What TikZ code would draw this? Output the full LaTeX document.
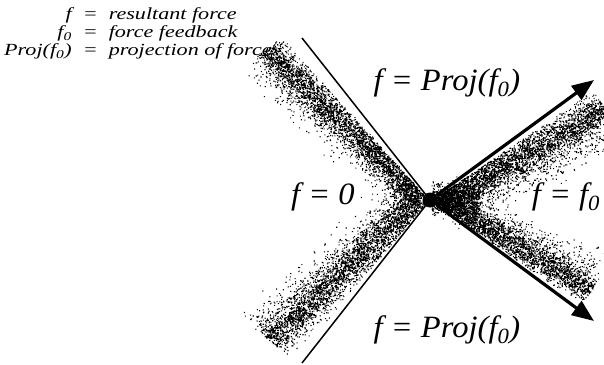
\documentclass[tikz,border=0pt]{standalone}
\usepackage{fontspec}
\setmainfont{Liberation Serif}
\newfontfamily\legendfont{Liberation Serif}[FakeStretch=1.3]
\newfontfamily\zonefont{Liberation Serif}[FakeStretch=1.05]
\usetikzlibrary{arrows.meta,positioning}

\begin{document}
\begin{tikzpicture}[x=1pt,y=-1pt,
  legend/.style={font=\legendfont\itshape\fontsize{17}{18}\selectfont,inner sep=0pt,align=left},
  zone/.style={font=\zonefont\itshape\fontsize{31}{32}\selectfont,inner sep=0pt},
  edge/.style={line width=1.5pt},
  force/.style={line width=3.2pt,-{Triangle[length=22pt,width=17pt]}},
  contact/.style={circle,inner sep=0pt,minimum size=15pt},
  speck/.style={fill=black}
]
\useasboundingbox (0,0) rectangle (604,364);
\pgfmathsetseed{4711}
\foreach \dx/\dy/\nx/\ny/\core/\spr/\num in {
  -148/-164/-0.786/0.621/13/13/2700,
  -140/-160/-0.786/0.621/24/18/700,
  -136/160/-0.786/-0.621/21/15/2700,
  -132/158/-0.786/-0.621/32/20/700,
  162/-110/0.593/0.805/15/14/2700,
  150/-100/0.593/0.805/28/18/700,
  150/106/0.593/-0.805/13/12/2300,
  140/100/0.593/-0.805/26/16/600,
  50/0/0/1/0/12/350,
  50/0/0/-1/0/12/350}{
  \fill[speck] foreach \i [evaluate=\i as \tpos using {0.03+0.97*rnd},
      evaluate=\i as \dist using {abs(\core*(0.4+\tpos)+\spr*(rnd+rnd+rnd+rnd-2))+1}]
    in {1,...,\num} {({430+\tpos*\dx+\dist*\nx},{200+\tpos*\dy+\dist*\ny}) rectangle ++(1.1,1.1)};
}
\node[contact] (dot) at (430,200) {};
\coordinate (ul) at (302,38);
\coordinate (ll) at (302,363);
\coordinate (ur) at (594,80);
\coordinate (lr) at (594,321);
\draw[edge] (ul) -- (dot.center) -- (ll);
\draw[force] (dot) -- (ur);
\draw[force] (dot) -- (lr);
\fill[black] (dot.center) circle (7.5);
\node[zone] (top) at (447,83) {f = Proj(f\textsubscript{0})};
\node[zone] (bottom) at (447,330) {f = Proj(f\textsubscript{0})};
\node[zone] (zero) at (323,197) {f = 0};
\node[zone] (full) at (566,197) {f = f\textsubscript{0}};
\node[legend,anchor=north west] (key) at (4,7) {%
  \begin{tabular}{@{}r@{\ \ =\ \ }l@{}}
  f & resultant force\\
  f\textsubscript{0} & force feedback\\
  Proj(f\textsubscript{0}) & projection of force
  \end{tabular}};
\end{tikzpicture}
\end{document}
